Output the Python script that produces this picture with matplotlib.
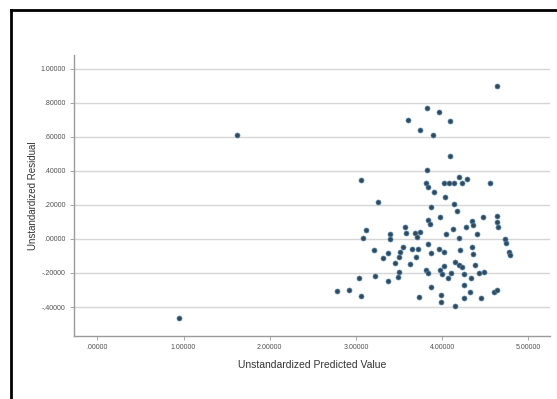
import matplotlib
matplotlib.use("Agg")
import matplotlib.pyplot as plt
from matplotlib.lines import Line2D

plt.rcParams["font.family"] = ["Liberation Sans", "DejaVu Sans"]

# Unstandardized predicted values (x) and residuals (y)
predicted = [
    3.823, 3.965, 3.609, 4.093, 3.745, 3.892, 4.093, 3.823, 3.057, 4.557,
    4.015, 4.073, 4.131, 4.189, 4.228, 4.287, 3.814, 3.834, 3.907, 3.261,
    4.035, 4.131, 3.869, 4.177, 3.977, 4.472, 4.634, 4.641, 4.646, 3.841,
    3.853, 3.115, 3.076, 3.571, 3.583, 3.397, 3.389, 3.679, 3.707, 3.745,
    4.275, 4.351, 4.356, 4.402, 4.043, 4.124, 4.189, 4.730, 4.742, 4.769,
    4.788, 3.212, 3.366, 3.312, 3.540, 3.513, 3.501, 3.649, 3.725, 3.834,
    3.872, 3.965, 4.015, 4.209, 4.351, 4.356, 3.695, 3.447, 3.629, 3.223,
    3.030, 3.377, 3.501, 3.493, 3.814, 3.841, 3.969, 3.997, 4.023, 4.066,
    4.104, 4.151, 4.189, 4.228, 4.247, 4.383, 4.333, 4.429, 4.479, 2.779,
    2.914, 3.057, 3.869, 4.247, 3.733, 3.985, 3.985, 4.143, 4.255, 4.325,
    4.449, 4.595, 4.641, 4.634, 1.620, 0.943,
]
residual = [
    0.769, 0.743, 0.700, 0.694, 0.637, 0.608, 0.488, 0.406, 0.347, 0.328,
    0.331, 0.331, 0.328, 0.363, 0.331, 0.351, 0.328, 0.304, 0.278, 0.214,
    0.249, 0.206, 0.190, 0.166, 0.128, 0.128, 0.135, 0.102, 0.072, 0.112,
    0.088, 0.053, 0.004, 0.069, 0.037, 0.029, -0.002, 0.034, 0.014, 0.043,
    0.069, 0.106, 0.082, 0.029, 0.029, 0.057, 0.008, -0.002, -0.025, -0.075,
    -0.094, -0.065, -0.084, -0.114, -0.045, -0.075, -0.104, -0.061, -0.061, -0.029,
    -0.084, -0.061, -0.075, -0.065, -0.045, -0.090, -0.104, -0.143, -0.147, -0.216,
    -0.228, -0.247, -0.192, -0.222, -0.182, -0.198, -0.182, -0.206, -0.159, -0.231,
    -0.202, -0.134, -0.153, -0.166, -0.208, -0.153, -0.228, -0.202, -0.196, -0.306,
    -0.300, -0.334, -0.281, -0.271, -0.339, -0.329, -0.369, -0.394, -0.349, -0.310,
    -0.345, -0.310, -0.300, 0.896, 0.612, -0.466,
]

x_ticks = [0, 1, 2, 3, 4, 5]
x_tick_labels = [".00000", "1.00000", "2.00000", "3.00000", "4.00000", "5.00000"]
y_ticks = [-0.4, -0.2, 0.0, 0.2, 0.4, 0.6, 0.8, 1.0]
y_tick_labels = ["-.40000", "-.20000", ".00000", ".20000", ".40000",
                 ".60000", ".80000", "1.00000"]

W, H = 557, 399
fig = plt.figure(figsize=(W / 100, H / 100), dpi=100)
fig.patch.set_facecolor("white")

ax = fig.add_axes([74 / W, 1 - 336 / H, (550 - 74) / W, (336 - 55) / H])
ax.set_xlim(-0.27, 5.25)
ax.set_ylim(-0.57, 1.08)

for s in ["top", "right"]:
    ax.spines[s].set_visible(False)
for s in ["left", "bottom"]:
    ax.spines[s].set_color("#9a9a9a")
    ax.spines[s].set_linewidth(1.0)

ax.set_yticks(y_ticks)
ax.set_yticklabels(y_tick_labels)
ax.set_xticks(x_ticks)
ax.set_xticklabels(x_tick_labels)
ax.tick_params(axis="both", labelsize=5, colors="#9a9a9a", labelcolor="#505050",
               length=3, width=0.6, pad=3)
ax.yaxis.grid(True, color="#d6d6d6", linewidth=1.0)
ax.set_axisbelow(True)

ax.scatter(predicted, residual, s=13, facecolor="#34495a", edgecolor="#4f86b0",
           linewidths=0.5, zorder=3)

ax.set_xlabel("Unstandardized Predicted Value", fontsize=7.5, color="#333333", labelpad=6)
ax.set_ylabel("Unstandardized Residual", fontsize=7, color="#333333", labelpad=2)

# outer frame (left and top edges visible)
fig.add_artist(Line2D([11 / W, 11 / W], [0, 1 - 9.5 / H], transform=fig.transFigure,
                      color="black", linewidth=2))
fig.add_artist(Line2D([11 / W, 1], [1 - 9.5 / H, 1 - 9.5 / H], transform=fig.transFigure,
                      color="black", linewidth=2))

fig.savefig("out.png", dpi=100)
